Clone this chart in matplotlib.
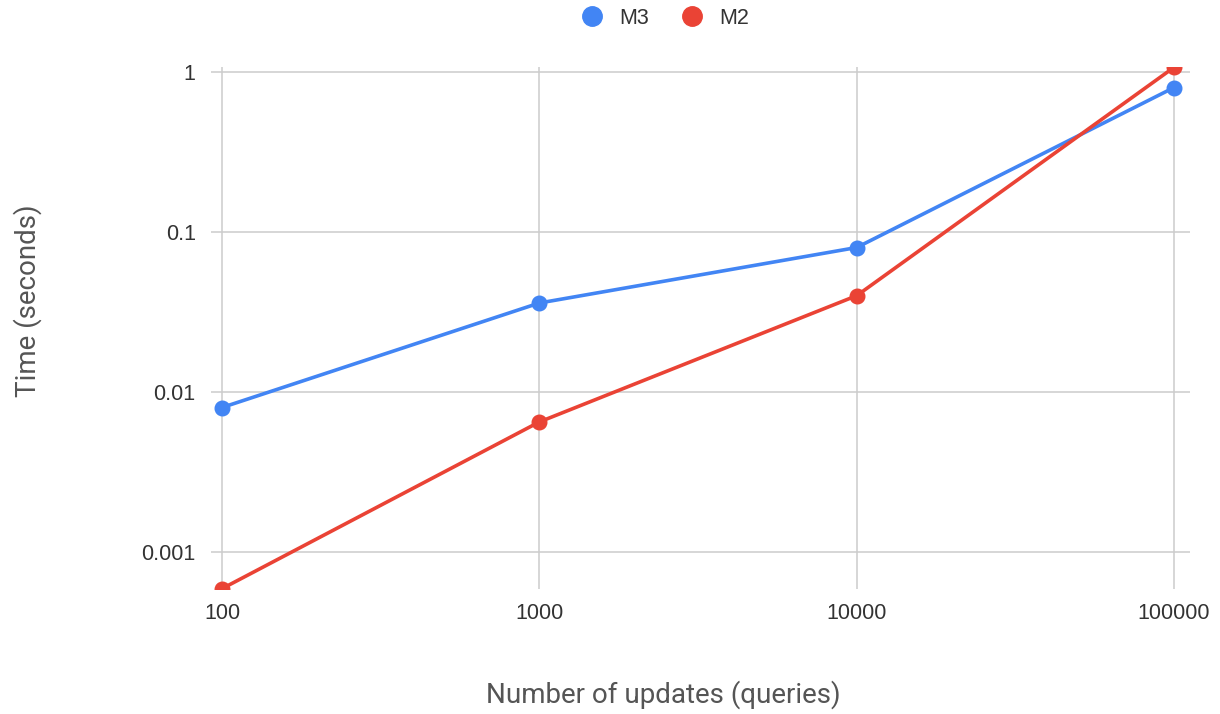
import matplotlib
matplotlib.use("Agg")
import matplotlib.pyplot as plt
from matplotlib.ticker import FixedLocator, FixedFormatter, NullLocator

updates = [100, 1000, 10000, 100000]
m3_times = [0.008, 0.036, 0.08, 0.8]
m2_times = [0.00059, 0.0065, 0.04, 1.07]
x_tick_labels = ["100", "1000", "10000", "100000"]
y_ticks = [0.001, 0.01, 0.1, 1]
y_tick_labels = ["0.001", "0.01", "0.1", "1"]

BLUE = "#4285F4"
RED = "#EA4335"

fig = plt.figure(figsize=(12.2, 7.14), dpi=100)
ax = fig.add_axes([211 / 1220, 1 - 589 / 714, (1190 - 211) / 1220, (589 - 67) / 714])

ax.set_xscale("log")
ax.set_yscale("log")
ax.set_xlim(92.3, 112300)
ax.set_ylim(0.000587, 1.075)

ax.plot(updates, m3_times, color=BLUE, lw=2.6, marker="o", ms=10.5,
        label="M3", zorder=3, clip_on=True)
ax.plot(updates, m2_times, color=RED, lw=2.6, marker="o", ms=10.5,
        label="M2", zorder=4, clip_on=True)

ax.xaxis.set_major_locator(FixedLocator(updates))
ax.xaxis.set_major_formatter(FixedFormatter(x_tick_labels))
ax.xaxis.set_minor_locator(NullLocator())
ax.yaxis.set_major_locator(FixedLocator(y_ticks))
ax.yaxis.set_major_formatter(FixedFormatter(y_tick_labels))
ax.yaxis.set_minor_locator(NullLocator())

ax.grid(True, color="#cccccc", lw=1.1)
ax.set_axisbelow(True)
for s in ax.spines.values():
    s.set_visible(False)
ax.tick_params(axis="both", length=0, labelsize=15.5, labelcolor="#333333")
ax.tick_params(axis="x", pad=10)
ax.tick_params(axis="y", pad=11)
for lab in ax.get_xticklabels() + ax.get_yticklabels():
    lab.set_family("Liberation Sans")

fig.text(663 / 1220, 1 - 695 / 714, "Number of updates (queries)", ha="center",
         va="center", fontsize=20, color="#555555", family="Roboto")
fig.text(28 / 1220, 1 - 301 / 714, "Time (seconds)", ha="center", va="center",
         rotation=90, fontsize=20, color="#555555", family="Roboto")

leg = fig.legend(loc="center", bbox_to_anchor=(665 / 1220, 1 - 18 / 714), ncol=2,
                 frameon=False, handlelength=1.0, handletextpad=0.75, columnspacing=1.5,
                 prop={"family": "Liberation Sans", "size": 15.5})
for h in leg.legend_handles:
    h.set_linestyle("none")
    h.set_markersize(14)
for t in leg.get_texts():
    t.set_color("#333333")

fig.savefig("out.png", dpi=100, facecolor="white")
